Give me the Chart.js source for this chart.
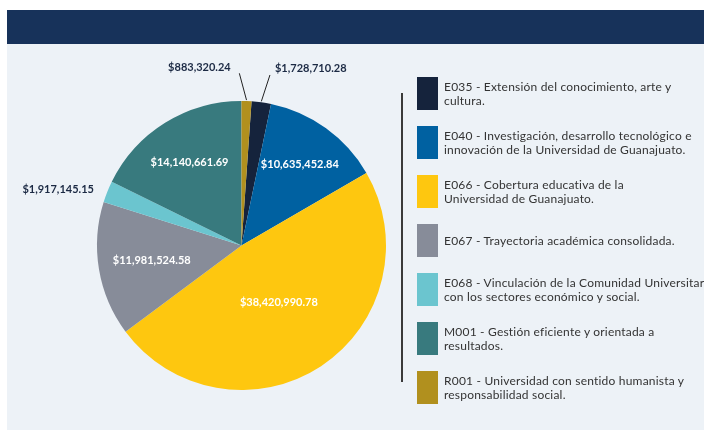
<!DOCTYPE html>
<html>
<head>
<meta charset="utf-8">
<script src="https://cdn.jsdelivr.net/npm/chart.js@4.4.1/dist/chart.umd.min.js"></script>
<style>
    html, body { margin: 0; padding: 0; background: #fff; }
    body { width: 704px; height: 430px; position: relative; overflow: hidden; font-family: Lato, "Open Sans", sans-serif; }
    #panel { position: absolute; left: 7px; top: 10px; width: 697px; height: 420px; background: #edf2f7; }
    #header { position: absolute; left: 7px; top: 10px; width: 697px; height: 34px; background: #17325a; }
    #chart { position: absolute; left: 0; top: 0; }
    #divider { position: absolute; left: 401px; top: 93px; width: 2px; height: 289px; background: #3a3a3a; }
    #legend { position: absolute; left: 417px; top: 77px; }
    .item { display: flex; align-items: center; height: 33px; margin-bottom: 16px; }
    .swatch { width: 21px; height: 33px; flex: none; }
    .text { margin-left: 6px; font-size: 12px; letter-spacing: 0.2px; line-height: 14px; color: #333; white-space: pre; }
</style>
</head>
<body>
<div id="panel"></div>
<div id="header"></div>
<canvas id="chart" width="704" height="430"></canvas>
<div id="divider"></div>
<div id="legend"></div>
<script>
// Programas presupuestarios y montos
const codes = ['E035', 'E040', 'E066', 'E067', 'E068', 'M001', 'R001'];
const names = [
    'Extensión del conocimiento, arte y\ncultura.',
    'Investigación, desarrollo tecnológico e\ninnovación de la Universidad de Guanajuato.',
    'Cobertura educativa de la\nUniversidad de Guanajuato.',
    'Trayectoria académica consolidada.',
    'Vinculación de la Comunidad Universitaria\ncon los sectores económico y social.',
    'Gestión eficiente y orientada a\nresultados.',
    'Universidad con sentido humanista y\nresponsabilidad social.'
];
const amounts = [1728710.28, 10635452.84, 38420990.78, 11981524.58, 1917145.15, 14140661.69, 883320.24];
const colors = ['#15233c', '#0061a1', '#fec70f', '#878c99', '#6bc5cf', '#387a7e', '#b1901e'];

// label placement: radius factor for inside labels, offset from the arc edge for outside ones
const insideRadius = [null, 0.69, 0.47, 0.63, null, 0.68, null];
const outsideOffset = [[8.6, -27.4], null, null, null, [-13.4, -2.6], null, [-7.2, -27.8]];
const withLeader = [true, false, false, false, false, false, true];

const total = amounts.reduce((a, b) => a + b, 0);

function money(v) {
    const parts = v.toFixed(2).split('.');
    return '$' + parts[0].replace(/\B(?=(\d{3})+(?!\d))/g, ',') + '.' + parts[1];
}

// Draw value labels on / beside each slice
const valueLabels = {
    id: 'valueLabels',
    afterDatasetsDraw(chart) {
        const ctx = chart.ctx;
        const meta = chart.getDatasetMeta(0);
        ctx.save();
        ctx.font = 'bold 11px Lato, "Open Sans", sans-serif';
        ctx.textBaseline = 'middle';
        meta.data.forEach((arc, i) => {
            const p = arc.getProps(['x', 'y', 'startAngle', 'endAngle', 'outerRadius']);
            const mid = (p.startAngle + p.endAngle) / 2;
            const text = money(amounts[i]);
            if (insideRadius[i] !== null) {
                const r = p.outerRadius * insideRadius[i];
                ctx.fillStyle = '#ffffff';
                ctx.textAlign = 'center';
                ctx.fillText(text, p.x + Math.cos(mid) * r, p.y + Math.sin(mid) * r);
                return;
            }
            const ex = p.x + Math.cos(mid) * p.outerRadius;
            const ey = p.y + Math.sin(mid) * p.outerRadius;
            const [dx, dy] = outsideOffset[i];
            const lx = ex + dx;
            const ly = ey + dy;
            ctx.fillStyle = '#1c2a44';
            if (withLeader[i]) {
                ctx.strokeStyle = '#222';
                ctx.lineWidth = 1;
                ctx.beginPath();
                ctx.moveTo(ex, ey - 1);
                ctx.lineTo(lx, ly);
                ctx.stroke();
                if (dx > 0) {
                    ctx.textAlign = 'left';
                    ctx.fillText(text, lx + 5, ly - 7);
                } else {
                    ctx.textAlign = 'right';
                    ctx.fillText(text, lx - 8.6, ly - 6);
                }
            } else {
                ctx.textAlign = dx > 0 ? 'left' : 'right';
                ctx.fillText(text, lx, ly);
            }
        });
        ctx.restore();
    }
};

new Chart(document.getElementById('chart'), {
    type: 'pie',
    data: {
        labels: codes,
        datasets: [{
            data: amounts,
            backgroundColor: colors,
            borderWidth: 0
        }]
    },
    options: {
        responsive: false,
        animation: false,
        rotation: 360 * amounts[amounts.length - 1] / total,
        layout: { padding: { left: 97, top: 101, right: 318, bottom: 40 } },
        plugins: {
            legend: { display: false },
            tooltip: { enabled: false }
        }
    },
    plugins: [valueLabels]
});

// HTML legend on the right
const legend = document.getElementById('legend');
codes.forEach((code, i) => {
    const item = document.createElement('div');
    item.className = 'item';
    const sw = document.createElement('div');
    sw.className = 'swatch';
    sw.style.background = colors[i];
    const tx = document.createElement('div');
    tx.className = 'text';
    tx.textContent = code + ' - ' + names[i];
    item.appendChild(sw);
    item.appendChild(tx);
    legend.appendChild(item);
});
</script>
</body>
</html>
